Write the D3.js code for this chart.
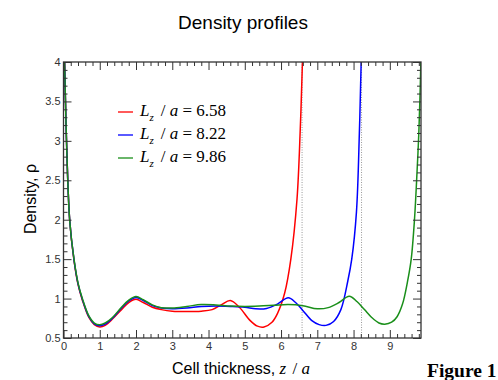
<!DOCTYPE html>
<html>
<head>
<meta charset="utf-8">
<script src="https://cdn.jsdelivr.net/npm/d3@7"></script>
<style>
  body { margin: 0; background: #fff; }
  svg { display: block; }
</style>
</head>
<body>
<svg width="498" height="380"></svg>
<script>
const width = 498;
const height = 380;
const plot = { left: 63.5, right: 421, top: 62, bottom: 338 };

// series: cell thickness z/a vs density, one per cell size
const lzValues = [6.58, 8.22, 9.86];
const seriesColors = ["#ff0000", "#0000ff", "#1a8f1a"];

const redZ = [0, 0.03, 0.08, 0.17, 0.29, 0.4, 0.52, 0.7, 0.85, 1.0, 1.15, 1.35, 1.6, 1.8, 2.0, 2.2, 2.45, 2.7, 3.0, 3.4, 3.8, 4.1, 4.35, 4.6, 4.85, 5.15, 5.35, 5.53, 5.75, 5.9, 6.1, 6.27, 6.44, 6.53, 6.59, 6.62];
const redRho = [4.6, 4.0, 3.05, 2.0, 1.48, 1.18, 0.98, 0.76, 0.67, 0.64, 0.66, 0.74, 0.86, 0.95, 0.99, 0.95, 0.89, 0.86, 0.84, 0.835, 0.84, 0.86, 0.92, 0.975, 0.89, 0.72, 0.65, 0.64, 0.7, 0.81, 1.07, 1.5, 2.26, 3.15, 4.0, 4.6];

const blueZ = [0, 0.03, 0.08, 0.17, 0.29, 0.4, 0.52, 0.7, 0.85, 1.0, 1.15, 1.35, 1.6, 1.8, 2.0, 2.2, 2.45, 2.7, 3.0, 3.4, 3.8, 4.2, 4.6, 5.0, 5.3, 5.6, 5.9, 6.2, 6.4, 6.6, 6.85, 7.05, 7.24, 7.45, 7.65, 7.84, 7.95, 8.08, 8.16, 8.21, 8.24];
const blueRho = [4.6, 4.0, 3.05, 2.0, 1.49, 1.19, 0.99, 0.77, 0.68, 0.655, 0.675, 0.75, 0.88, 0.97, 1.015, 0.975, 0.91, 0.88, 0.87, 0.88, 0.9, 0.905, 0.9, 0.89, 0.87, 0.875, 0.93, 1.01, 0.95, 0.85, 0.72, 0.67, 0.66, 0.71, 0.86, 1.22, 1.5, 2.1, 3.1, 4.0, 4.6];

const greenZ = [0, 0.03, 0.08, 0.17, 0.29, 0.4, 0.52, 0.7, 0.85, 1.0, 1.15, 1.35, 1.6, 1.8, 2.0, 2.2, 2.45, 2.7, 3.0, 3.4, 3.8, 4.2, 4.6, 5.0, 5.4, 5.8, 6.2, 6.6, 7.0, 7.3, 7.6, 7.88, 8.1, 8.3, 8.5, 8.7, 8.86, 9.05, 9.2, 9.35, 9.49, 9.59, 9.68, 9.75, 9.8, 9.84, 9.87];
const greenRho = [4.6, 4.0, 3.05, 2.0, 1.5, 1.2, 1.0, 0.78, 0.69, 0.668, 0.69, 0.76, 0.89, 0.98, 1.025, 0.985, 0.92, 0.885, 0.88, 0.9, 0.925, 0.92, 0.905, 0.9, 0.905, 0.915, 0.925, 0.91, 0.87, 0.885, 0.95, 1.03, 0.96, 0.86, 0.76, 0.69, 0.675, 0.7, 0.77, 0.93, 1.22, 1.5, 2.0, 2.6, 3.1, 3.7, 4.3];

const xTicks = [0, 1, 2, 3, 4, 5, 6, 7, 8, 9];
const xTickLabels = ["0", "1", "2", "3", "4", "5", "6", "7", "8", "9"];
const yTicks = [0.5, 1, 1.5, 2, 2.5, 3, 3.5, 4];
const yTickLabels = ["0.5", "1", "1.5", "2", "2.5", "3", "3.5", "4"];

const series = [
  { z: redZ, rho: redRho },
  { z: blueZ, rho: blueRho },
  { z: greenZ, rho: greenRho }
];

const svg = d3.select("svg");

const xScale = d3.scaleLinear().domain([0, 9.86]).range([plot.left, plot.right]);
const yScale = d3.scaleLinear().domain([0.5, 4]).range([plot.bottom, plot.top]);

const xMinor = d3.range(0, 9.861, 0.2).filter(v => Math.abs(v - Math.round(v)) > 1e-6);
const yMinor = d3.range(0.5, 4.001, 0.1).filter(v => Math.abs(v * 2 - Math.round(v * 2)) > 1e-6);

svg.append("defs").append("clipPath")
  .attr("id", "clip")
  .append("rect")
  .attr("x", plot.left)
  .attr("y", plot.top)
  .attr("width", plot.right - plot.left)
  .attr("height", plot.bottom - plot.top);

// title
svg.append("text")
  .attr("x", 243)
  .attr("y", 29)
  .attr("text-anchor", "middle")
  .style("font-family", "Liberation Sans, Arial, sans-serif")
  .style("font-size", "19px")
  .text("Density profiles");

// dotted lines at the cell walls
svg.append("g")
  .selectAll("line")
  .data(lzValues.slice(0, 2))
  .enter()
  .append("line")
  .attr("x1", d => xScale(d))
  .attr("x2", d => xScale(d))
  .attr("y1", plot.bottom)
  .attr("y2", plot.top)
  .attr("stroke", "#999")
  .attr("stroke-width", 1)
  .attr("stroke-dasharray", "1,1.5");

// curves
const line = d3.line()
  .x(d => xScale(d[0]))
  .y(d => yScale(d[1]))
  .curve(d3.curveCatmullRom.alpha(0.5));

svg.append("g")
  .attr("clip-path", "url(#clip)")
  .selectAll("path")
  .data(series)
  .enter()
  .append("path")
  .attr("d", s => line(s.z.map((z, i) => [z, s.rho[i]])))
  .attr("fill", "none")
  .attr("stroke", (d, i) => seriesColors[i])
  .attr("stroke-width", 1.5);

// axes, ticks all pointing inward
function styleAxis(g) {
  g.select(".domain").remove();
  g.selectAll("line").attr("stroke", "#333");
  g.selectAll("text")
    .attr("fill", "#333")
    .style("font-family", "Liberation Sans, Arial, sans-serif")
    .style("font-size", "11px");
}

svg.append("g")
  .attr("transform", "translate(0," + plot.bottom + ")")
  .call(d3.axisBottom(xScale).tickValues(xTicks).tickSize(-8).tickPadding(4)
    .tickFormat((d, i) => xTickLabels[i]))
  .call(styleAxis);
svg.append("g")
  .attr("transform", "translate(0," + plot.bottom + ")")
  .call(d3.axisBottom(xScale).tickValues(xMinor).tickSize(-4).tickFormat(""))
  .call(styleAxis);
svg.append("g")
  .attr("transform", "translate(0," + plot.top + ")")
  .call(d3.axisTop(xScale).tickValues(xTicks).tickSize(-8).tickFormat(""))
  .call(styleAxis);
svg.append("g")
  .attr("transform", "translate(0," + plot.top + ")")
  .call(d3.axisTop(xScale).tickValues(xMinor).tickSize(-4).tickFormat(""))
  .call(styleAxis);

svg.append("g")
  .attr("transform", "translate(" + plot.left + ",0)")
  .call(d3.axisLeft(yScale).tickValues(yTicks).tickSize(-8).tickPadding(3)
    .tickFormat((d, i) => yTickLabels[i]))
  .call(styleAxis);
svg.append("g")
  .attr("transform", "translate(" + plot.left + ",0)")
  .call(d3.axisLeft(yScale).tickValues(yMinor).tickSize(-4).tickFormat(""))
  .call(styleAxis);
svg.append("g")
  .attr("transform", "translate(" + plot.right + ",0)")
  .call(d3.axisRight(yScale).tickValues(yTicks).tickSize(-8).tickFormat(""))
  .call(styleAxis);
svg.append("g")
  .attr("transform", "translate(" + plot.right + ",0)")
  .call(d3.axisRight(yScale).tickValues(yMinor).tickSize(-4).tickFormat(""))
  .call(styleAxis);

// frame
svg.append("rect")
  .attr("x", plot.left)
  .attr("y", plot.top)
  .attr("width", plot.right - plot.left)
  .attr("height", plot.bottom - plot.top)
  .attr("fill", "none")
  .attr("stroke", "#333")
  .attr("stroke-width", 1.3);

// axis titles
svg.append("text")
  .attr("transform", "translate(36,199) rotate(-90)")
  .attr("text-anchor", "middle")
  .style("font-family", "Liberation Sans, Arial, sans-serif")
  .style("font-size", "16px")
  .text("Density, ρ");

const xLabel = svg.append("text")
  .attr("x", 172)
  .attr("y", 374)
  .style("font-family", "Liberation Sans, Arial, sans-serif")
  .style("font-size", "16px");
xLabel.append("tspan").text("Cell thickness, ");
xLabel.append("tspan")
  .style("font-family", "Liberation Serif, Times New Roman, serif")
  .style("font-style", "italic")
  .style("font-size", "17px")
  .text("z");
xLabel.append("tspan")
  .style("font-family", "Liberation Serif, Times New Roman, serif")
  .style("font-size", "17px")
  .attr("dx", 2)
  .text(" / ");
xLabel.append("tspan")
  .style("font-family", "Liberation Serif, Times New Roman, serif")
  .style("font-style", "italic")
  .style("font-size", "17px")
  .text("a");

// legend
const legend = svg.append("g").attr("transform", "translate(118,112)");
const rows = legend.selectAll("g")
  .data(lzValues)
  .enter()
  .append("g")
  .attr("transform", (d, i) => "translate(0," + (i * 23) + ")");
rows.append("line")
  .attr("x1", 0)
  .attr("x2", 15)
  .attr("stroke", (d, i) => seriesColors[i])
  .attr("stroke-width", 1.3);
const labels = rows.append("text")
  .attr("x", 22)
  .attr("y", 4)
  .style("font-family", "Liberation Serif, Times New Roman, serif")
  .style("font-size", "17px");
labels.append("tspan").style("font-style", "italic").text("L");
labels.append("tspan")
  .style("font-style", "italic")
  .style("font-size", "11px")
  .attr("dy", 5)
  .text("z");
labels.append("tspan").attr("dy", -5).attr("dx", 7).text("/ ");
labels.append("tspan").style("font-style", "italic").text("a");
labels.append("tspan").text(d => " = " + d3.format(".2f")(d));

// figure caption, cut by the page edge
svg.append("text")
  .attr("x", 427)
  .attr("y", 377)
  .style("font-family", "Liberation Serif, Times New Roman, serif")
  .style("font-weight", "bold")
  .style("font-size", "19.5px")
  .text("Figure 1");
</script>
</body>
</html>
